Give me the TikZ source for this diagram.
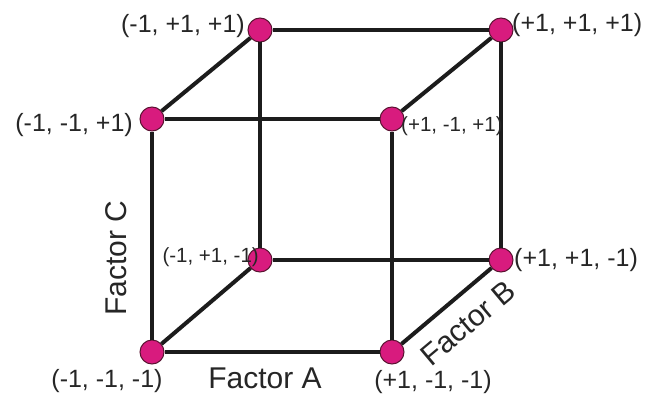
\documentclass[tikz,border=0pt]{standalone}
\usepackage{fontspec}
\setmainfont{Liberation Sans}
\usetikzlibrary{positioning}
\definecolor{dotpink}{HTML}{D81B7E}
\definecolor{dotrim}{HTML}{5A1432}
\definecolor{cubeblk}{HTML}{1C1C1C}
\definecolor{txtgray}{HTML}{262626}

\begin{document}
\begin{tikzpicture}[
  x=1pt, y=-1pt,
  corner/.style={circle, fill=dotpink, draw=dotrim, line width=1pt,
    minimum size=24pt, inner sep=0pt},
  cubeline/.style={cubeblk, line width=4pt},
  biglab/.style={font=\fontsize{25}{25}\selectfont, text=txtgray, inner sep=0pt},
  smalllab/.style={font=\fontsize{20.5}{20.5}\selectfont, text=txtgray, inner sep=0pt},
  axlab/.style={font=\fontsize{30}{30}\selectfont, text=txtgray, inner sep=0pt},
]

% Canvas
\useasboundingbox (0,0) rectangle (647,396);

% =============================================
% Corners (A, B, C)
% =============================================

% Front face
\node[corner] (mmm) at (152,352) {};
\node[corner] (pmm) at (392,352) {};
\node[corner] (mmp) at (152,119) {};
\node[corner] (pmp) at (392,119) {};

% Back face
\node[corner] (mpm) at (260,260) {};
\node[corner] (ppm) at (501,260) {};
\node[corner] (mpp) at (260,30) {};
\node[corner] (ppp) at (501,30) {};

% =============================================
% Edges
% =============================================

% Front face
\draw[cubeline] (mmm) -- (pmm) -- (pmp) -- (mmp) -- (mmm);

% Back face
\draw[cubeline] (mpm) -- (ppm) -- (ppp) -- (mpp) -- (mpm);

% Depth edges
\draw[cubeline] (mmm) -- (mpm);
\draw[cubeline] (pmm) -- (ppm);
\draw[cubeline] (mmp) -- (mpp);
\draw[cubeline] (pmp) -- (ppp);

% =============================================
% Corner labels
% =============================================

\node[biglab, anchor=east] (lmpp) at (245,26) {(-1, +1, +1)};
\node[biglab, anchor=west] (lppp) at (512,25) {(+1, +1, +1)};
\node[biglab, anchor=east] (lmmp) at (133,125) {(-1, -1, +1)};
\node[smalllab, anchor=west] (lpmp) at (401,126) {(+1, -1, +1)};
\node[smalllab, anchor=east] (lmpm) at (259,257) {(-1, +1, -1)};
\node[biglab, anchor=west] (lppm) at (514,260) {(+1, +1, -1)};
\node[biglab] (lmmm) at (107,381) {(-1, -1, -1)};
\node[biglab] (lpmm) at (433,382) {(+1, -1, -1)};

% =============================================
% Factor labels
% =============================================

\node[axlab] (facA) at (265,378) {Factor A};
\node[axlab, rotate=40] (facB) at (468,323) {Factor B};
\node[axlab, rotate=90] (facC) at (116,258) {Factor C};

\end{tikzpicture}
\end{document}
